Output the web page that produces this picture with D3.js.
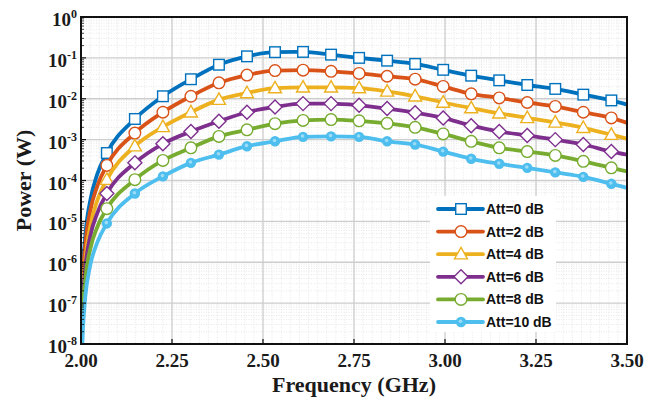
<!DOCTYPE html>
<html>
<head>
<meta charset="utf-8">
<script src="https://d3js.org/d3.v7.min.js"></script>
<style>
body, html {
  margin: 0;
  padding: 0;
  background: #fff;
}
.lbl {
  font-family: "Liberation Serif", "Times New Roman", serif;
  font-weight: bold;
  fill: #1a1a1a;
}
.legend text {
  font-family: "Liberation Sans", Arial, sans-serif;
  font-weight: bold;
  font-size: 14px;
  fill: #111;
}
.grid-major { stroke: #cdcdcd; stroke-width: 1.3; }
.grid-minor { stroke: #e2e2e2; stroke-width: 0.8; stroke-dasharray: 1,1.5; }
</style>
</head>
<body>
<div id="chart"></div>
<script>

// frequency samples (GHz): a few points near the band edge, then the marker points, then the end
var edgeLeft = [2.002, 2.005, 2.012, 2.025, 2.045];
var markerFreq = [2.071, 2.148, 2.225, 2.302, 2.379, 2.456, 2.533, 2.610, 2.687, 2.764,
                  2.841, 2.918, 2.995, 3.072, 3.149, 3.226, 3.303, 3.380, 3.457];
var edgeRight = [3.5];
var freq = edgeLeft.concat(markerFreq, edgeRight);

// power in W, same order as freq
var att0 = [4.4e-8, 4.7e-7, 4.6e-6, 3.1e-5, 1.45e-4,
  4.7e-4, 3.2e-3, 1.15e-2, 3.0e-2, 6.8e-2, 0.109, 0.138, 0.14, 0.12, 0.1,
  8.55e-2, 7.1e-2, 5.1e-2, 3.67e-2, 2.82e-2, 2.17e-2, 1.74e-2, 1.26e-2, 9.1e-3,
  7.2e-3];
var att2 = [3.1e-8, 3.1e-7, 2.75e-6, 1.74e-5, 7.4e-5,
  2.34e-4, 1.45e-3, 4.68e-3, 1.15e-2, 2.45e-2, 3.8e-2, 4.9e-2, 5.0e-2, 4.68e-2, 4.17e-2,
  3.55e-2, 3.02e-2, 2.0e-2, 1.32e-2, 1.05e-2, 8.1e-3, 6.5e-3, 4.68e-3, 3.4e-3,
  2.57e-3];
var att4 = [1.17e-8, 1.2e-7, 1.12e-6, 7.2e-6, 3.3e-5,
  1.05e-4, 6.9e-4, 2.04e-3, 4.68e-3, 9.5e-3, 1.38e-2, 1.82e-2, 1.9e-2, 1.9e-2, 1.82e-2,
  1.51e-2, 1.15e-2, 8.1e-3, 5.9e-3, 4.4e-3, 3.4e-3, 2.63e-3, 1.95e-3, 1.32e-3,
  1.05e-3];
var att6 = [1.1e-8, 9.3e-8, 7.4e-7, 4.2e-6, 1.62e-5,
  4.8e-5, 2.7e-4, 7.9e-4, 1.58e-3, 2.82e-3, 4.68e-3, 6.3e-3, 7.6e-3, 7.6e-3, 6.9e-3,
  5.75e-3, 4.57e-3, 3.4e-3, 2.19e-3, 1.58e-3, 1.26e-3, 1.0e-3, 7.6e-4, 5.1e-4,
  4.3e-4];
var att8 = [7.9e-9, 6.0e-8, 4.1e-7, 2.04e-6, 7.4e-6,
  2.04e-5, 1.05e-4, 3.1e-4, 6.3e-4, 1.2e-3, 1.74e-3, 2.45e-3, 2.95e-3, 3.1e-3, 2.88e-3,
  2.5e-3, 2.0e-3, 1.38e-3, 9.1e-4, 6.3e-4, 5.1e-4, 4.1e-4, 2.95e-4, 2.04e-4,
  1.66e-4];
var att10 = [4.0e-9, 2.0e-8, 1.48e-7, 8.1e-7, 3.1e-6,
  8.9e-6, 4.8e-5, 1.26e-4, 2.7e-4, 4.3e-4, 6.9e-4, 9.1e-4, 1.17e-3, 1.2e-3, 1.17e-3,
  9.1e-4, 7.6e-4, 5.1e-4, 3.4e-4, 2.57e-4, 2.04e-4, 1.58e-4, 1.23e-4, 8.3e-5,
  6.6e-5];

var seriesNames = ["Att=0 dB", "Att=2 dB", "Att=4 dB", "Att=6 dB", "Att=8 dB", "Att=10 dB"];
var seriesValues = [att0, att2, att4, att6, att8, att10];
var seriesColors = ["#0072BD", "#D95319", "#EDB120", "#7E2F8E", "#77AC30", "#4DBEEE"];
var seriesShapes = ["square", "circle", "triangle", "diamond", "circle", "dot"];

var xTicks = [2.00, 2.25, 2.50, 2.75, 3.00, 3.25, 3.50];
var yExps = [-8, -7, -6, -5, -4, -3, -2, -1, 0];

var width = 661, height = 401;
var margin = {left: 81, right: 34, top: 17, bottom: 57};
var iw = width - margin.left - margin.right,
    ih = height - margin.top - margin.bottom;

var svg = d3.select('#chart').append('svg')
  .attr('width', width)
  .attr('height', height);

var g = svg.append('g').attr('transform', 'translate(' + margin.left + ',' + margin.top + ')');

var x = d3.scaleLinear().domain([2.0, 3.5]).range([0, iw]);
var y = d3.scaleLog().domain([1e-8, 1]).range([ih, 0]);

// minor grid
var xMinor = d3.range(2.0, 3.5001, 0.025).filter(function(v) { return Math.abs(v / 0.25 - Math.round(v / 0.25)) > 1e-6; });
var yMinor = [];
yExps.slice(0, -1).forEach(function(e) {
  for (var m = 2; m <= 9; m++) yMinor.push(m * Math.pow(10, e));
});
g.selectAll('.gxm').data(xMinor).enter().append('line')
  .attr('class', 'grid-minor')
  .attr('x1', function(d) { return x(d); }).attr('x2', function(d) { return x(d); })
  .attr('y1', 0).attr('y2', ih);
g.selectAll('.gym').data(yMinor).enter().append('line')
  .attr('class', 'grid-minor')
  .attr('x1', 0).attr('x2', iw)
  .attr('y1', function(d) { return y(d); }).attr('y2', function(d) { return y(d); });

// major grid
g.selectAll('.gx').data(xTicks).enter().append('line')
  .attr('class', 'grid-major')
  .style('stroke', '#bdbdbd').style('stroke-width', 1)
  .attr('x1', function(d) { return x(d); }).attr('x2', function(d) { return x(d); })
  .attr('y1', 0).attr('y2', ih);
g.selectAll('.gy').data(yExps).enter().append('line')
  .attr('class', 'grid-major')
  .attr('x1', 0).attr('x2', iw)
  .attr('y1', function(d) { return y(Math.pow(10, d)); }).attr('y2', function(d) { return y(Math.pow(10, d)); });

// curves
g.append('clipPath').attr('id', 'clip')
  .append('rect').attr('width', iw).attr('height', ih);

var line = d3.line()
  .x(function(d) { return x(d[0]); })
  .y(function(d) { return y(d[1]); })
  .curve(d3.curveMonotoneX);

var plot = g.append('g').attr('clip-path', 'url(#clip)');

function drawMarker(sel, shape, color) {
  if (shape === 'square') {
    sel.append('rect').attr('x', -5.3).attr('y', -5.3).attr('width', 10.6).attr('height', 10.6)
      .attr('fill', '#fff').attr('stroke', color).attr('stroke-width', 1.4);
  } else if (shape === 'circle') {
    sel.append('circle').attr('r', 5.8)
      .attr('fill', '#fff').attr('stroke', color).attr('stroke-width', 1.4);
  } else if (shape === 'triangle') {
    sel.append('path').attr('d', 'M0,-6.8L6.5,4.7L-6.5,4.7Z')
      .attr('fill', '#fff').attr('stroke', color).attr('stroke-width', 1.4);
  } else if (shape === 'diamond') {
    sel.append('path').attr('d', 'M0,-7L7,0L0,7L-7,0Z')
      .attr('fill', '#fff').attr('stroke', color).attr('stroke-width', 1.4);
  } else {
    sel.append('circle').attr('r', 5.2).attr('fill', color);
    sel.append('circle').attr('r', 1.8).attr('cx', -0.5).attr('cy', -0.8).attr('fill', '#9ddcf7');
  }
}

seriesValues.forEach(function(vals, i) {
  var pts = freq.map(function(f, k) { return [f, vals[k]]; });
  plot.append('path')
    .datum(pts)
    .attr('fill', 'none')
    .attr('stroke', seriesColors[i])
    .attr('stroke-width', 3.8)
    .attr('stroke-linejoin', 'round')
    .attr('d', line);

  var mk = pts.slice(edgeLeft.length, edgeLeft.length + markerFreq.length);
  plot.selectAll('.m' + i).data(mk).enter().append('g')
    .attr('transform', function(d) { return 'translate(' + x(d[0]) + ',' + y(d[1]) + ')'; })
    .each(function() { drawMarker(d3.select(this), seriesShapes[i], seriesColors[i]); });
});

// axes box
g.append('rect').attr('width', iw).attr('height', ih)
  .attr('fill', 'none').attr('stroke', '#111').attr('stroke-width', 2);

// x axis ticks (inward) and labels
g.selectAll('.xt').data(xTicks).enter().append('line')
  .attr('x1', function(d) { return x(d); }).attr('x2', function(d) { return x(d); })
  .attr('y1', ih).attr('y2', ih - 5)
  .attr('stroke', '#111').attr('stroke-width', 1.2);
g.selectAll('.xl').data(xTicks).enter().append('text')
  .attr('class', 'lbl')
  .attr('x', function(d) { return x(d); })
  .attr('y', ih + 23)
  .attr('text-anchor', 'middle')
  .attr('font-size', 19)
  .text(function(d) { return d3.format('.2f')(d); });

// y axis ticks (inward, major + minor) and labels
g.selectAll('.yt').data(yExps).enter().append('line')
  .attr('x1', 0).attr('x2', 5)
  .attr('y1', function(d) { return y(Math.pow(10, d)); }).attr('y2', function(d) { return y(Math.pow(10, d)); })
  .attr('stroke', '#111').attr('stroke-width', 1.2);
g.selectAll('.ytm').data(yMinor).enter().append('line')
  .attr('x1', 0).attr('x2', 3)
  .attr('y1', function(d) { return y(d); }).attr('y2', function(d) { return y(d); })
  .attr('stroke', '#111').attr('stroke-width', 0.8);

var yl = g.selectAll('.yl').data(yExps).enter().append('text')
  .attr('class', 'lbl')
  .attr('x', -4)
  .attr('y', function(d) { return y(Math.pow(10, d)) + 9; })
  .attr('text-anchor', 'end')
  .attr('font-size', 19);
yl.append('tspan').text('10');
yl.append('tspan').attr('font-size', 12).attr('dy', -8).text(function(d) { return d === 0 ? '0' : '-' + Math.abs(d); });

// axis titles
svg.append('text').attr('class', 'lbl')
  .attr('x', margin.left + iw / 2).attr('y', 392)
  .attr('text-anchor', 'middle').attr('font-size', 22)
  .text('Frequency (GHz)');
svg.append('text').attr('class', 'lbl')
  .attr('transform', 'translate(31,' + (margin.top + ih / 2) + ') rotate(-90)')
  .attr('text-anchor', 'middle').attr('font-size', 22)
  .text('Power (W)');

// legend
var legend = svg.append('g').attr('class', 'legend').attr('transform', 'translate(430,196)');
legend.append('rect').attr('width', 126).attr('height', 136).attr('fill', '#fff');
seriesNames.forEach(function(name, i) {
  var row = legend.append('g').attr('transform', 'translate(0,' + (13 + i * 22.6) + ')');
  row.append('line').attr('x1', 8).attr('x2', 53).attr('y1', 0).attr('y2', 0)
    .attr('stroke', seriesColors[i]).attr('stroke-width', 3.8).attr('stroke-linecap', 'round');
  drawMarker(row.append('g').attr('transform', 'translate(31,0)'), seriesShapes[i], seriesColors[i]);
  row.append('text').attr('x', 56).attr('y', 5).text(name);
});

</script>
</body>
</html>
